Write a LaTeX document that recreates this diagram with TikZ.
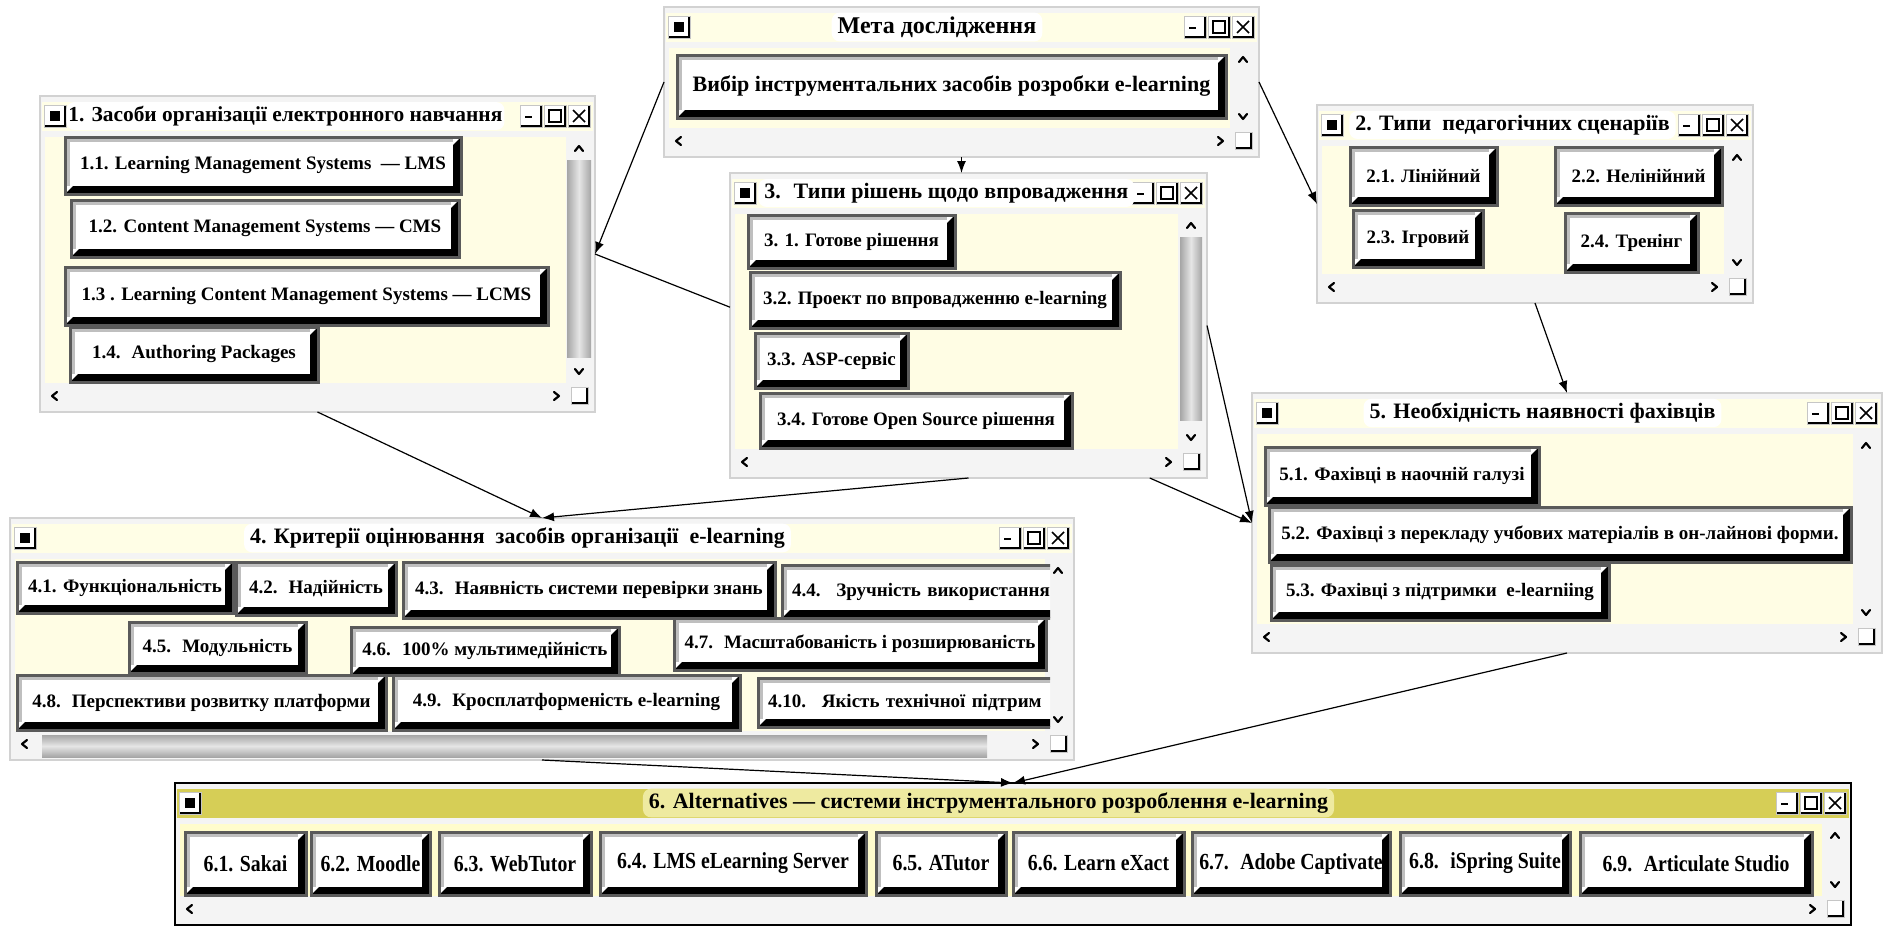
\documentclass[tikz,border=0pt]{standalone}
\usepackage{fontspec}
\setmainfont{Liberation Serif}
\newfontfamily\narrowserif{Liberation Serif}[FakeStretch=0.86]
\usetikzlibrary{positioning,arrows.meta,calc}

\definecolor{winbg}{RGB}{244,244,244}
\definecolor{paper}{RGB}{255,253,228}
\definecolor{barbg}{RGB}{255,254,230}
\definecolor{olivebar}{RGB}{214,206,86}
\definecolor{olivehalo}{RGB}{238,234,160}
\definecolor{paper6}{RGB}{255,252,205}
\definecolor{btnedge}{RGB}{90,90,90}

\tikzset{
  winframe/.style={draw=gray!35, line width=0.8pt, fill=winbg, inner sep=0pt, outer sep=0pt},
  winframe6/.style={draw=black, line width=1pt, fill=winbg, inner sep=0pt, outer sep=0pt},
  barfill/.style={fill=barbg},
  barfill6/.style={fill=olivebar},
  paperfill/.style={fill=paper},
  paperfill6/.style={fill=paper6},
  wintitle/.style={font=\bfseries\fontsize{11}{13}\selectfont, fill=white,
    rounded corners=4pt, inner xsep=3pt, inner ysep=2pt},
  btn/.style={draw=btnedge, line width=1.5pt, fill=white, inner sep=0pt, outer sep=0pt,
    font=\bfseries\fontsize{9.5}{11}\selectfont,
    path picture={
      \coordinate (bsw) at (path picture bounding box.south west);
      \coordinate (bne) at (path picture bounding box.north east);
      \coordinate (bse) at (bsw -| bne);
      \coordinate (bnw) at (bsw |- bne);
      \fill[black] (bsw) -- (bse) -- (bne) -- ([shift={(-4pt,-4pt)}]bne)
        -- ([shift={(-4pt,4pt)}]bse) -- ([shift={(4pt,4pt)}]bsw) -- cycle;
      \draw[gray!50, line width=1.5pt] ([shift={(1.5pt,4pt)}]bsw)
        -- ([shift={(1.5pt,-1.5pt)}]bnw) -- ([shift={(-4pt,-1.5pt)}]bne);
    }},
  iconbox/.style={fill=white, draw=gray!45, line width=0.5pt, minimum size=11pt,
    inner sep=0pt, outer sep=0pt,
    path picture={
      \draw[black, line width=2.4pt] (path picture bounding box.south west)
        -- (path picture bounding box.south east) -- (path picture bounding box.north east);
      \fill[black] ([shift={(-2.5pt,-2.5pt)}]path picture bounding box.center)
        rectangle ([shift={(2.3pt,2.3pt)}]path picture bounding box.center);
    }},
  ctlbox/.style={fill=white, draw=gray!45, line width=0.5pt, minimum size=11pt,
    inner sep=0pt, outer sep=0pt,
    path picture={
      \draw[black, line width=2.4pt] (path picture bounding box.south west)
        -- (path picture bounding box.south east) -- (path picture bounding box.north east);
    }},
  sizebox/.style={ctlbox, minimum size=8.5pt},
  chev/.style={line width=1.1pt, line cap=round, line join=round},
  chevup/.pic={\draw[chev] (-4,3) -- (0,-2) -- (4,3);},
  chevdown/.pic={\draw[chev] (-4,-3) -- (0,2) -- (4,-3);},
  chevleft/.pic={\draw[chev] (3,-4) -- (-2,0) -- (3,4);},
  chevright/.pic={\draw[chev] (-3,-4) -- (2,0) -- (-3,4);},
  conn/.style={-{Latex[length=6pt,width=4.5pt]}, line width=0.6pt},
  thumbv/.style={left color=gray!70, right color=gray!70, middle color=gray!20},
  thumbh/.style={top color=gray!70, bottom color=gray!70, middle color=gray!20},
  big/.style={font=\narrowserif\bfseries\fontsize{11.5}{13}\selectfont}
}

% window chrome: name, x1, y1, x2, y2, variant
\newcommand{\uiwin}[6]{%
  \node[winframe#6, anchor=north west, minimum width={(#4-#2)*0.5pt},
        minimum height={(#5-#3)*0.5pt}] (#1) at (#2,#3) {};
  \fill[barfill#6] ({#2+2},{#3+6}) rectangle ({#4-2},{#3+35});
  \fill[paperfill#6] ({#2+5},{#3+41}) rectangle ({#4-29},{#5-29});
  \node[iconbox] (#1-icon) at ({#2+15},{#3+20}) {};
  \node[ctlbox] (#1-min) at ({#4-64},{#3+20}) {};
  \node[ctlbox] (#1-max) at ({#4-40},{#3+20}) {};
  \node[ctlbox] (#1-cls) at ({#4-16},{#3+20}) {};
  \draw[line width=1.2pt] ([shift={(-3pt,-0.5pt)}]#1-min.center) -- ([shift={(0.5pt,-0.5pt)}]#1-min.center);
  \draw[line width=0.8pt] ([shift={(-3pt,-3pt)}]#1-max.center)
    rectangle ([shift={(3pt,3pt)}]#1-max.center);
  \draw[line width=0.8pt] ([shift={(-3pt,-3pt)}]#1-cls.center) -- ([shift={(3pt,3pt)}]#1-cls.center)
    ([shift={(-3pt,3pt)}]#1-cls.center) -- ([shift={(3pt,-3pt)}]#1-cls.center);
  \pic at ({#4-16},{#3+52}) {chevup};
  \pic at ({#4-16},{#5-40}) {chevdown};
  \pic at ({#2+14},{#5-16}) {chevleft};
  \pic at ({#4-38},{#5-16}) {chevright};
  \node[sizebox] (#1-grip) at ({#4-15},{#5-16}) {};
}

% button: [options] name, x1, y1, x2, y2, text
\newcommand{\uibtn}[7][]{%
  \node[btn, #1, minimum width={(#5-#3)*0.5pt}, minimum height={(#6-#4)*0.5pt}]
    (#2) at ({(#3+#5)/2},{(#4+#6)/2}) {#7};
}

\begin{document}
\begin{tikzpicture}[x=0.5pt, y=-0.5pt]
\useasboundingbox (0,0) rectangle (1887,926);
\fill[white] (0,0) rectangle (1887,926);

% windows
\uiwin{meta}{664}{7}{1259}{157}{}
\uiwin{w1}{40}{96}{595}{412}{}
\uiwin{w3}{730}{173}{1207}{478}{}
\uiwin{w2}{1317}{105}{1753}{303}{}
\uiwin{w5}{1252}{393}{1882}{653}{}
\uiwin{w4}{10}{518}{1074}{760}{}
\uiwin{w6}{175}{783}{1851}{925}{6}

% scroll thumbs
\shade[thumbv] (567,160) rectangle (591,357);
\shade[thumbv] (1180,237) rectangle (1202,420);
\shade[thumbh] (42,735) rectangle (987,757);

% titles
\node[wintitle, font=\bfseries\fontsize{12}{14}\selectfont] (tm)
  at ($(meta-icon.east)!0.5!(meta-min.west)$) {Мета дослідження};
\node[wintitle, right=0pt of w1-icon, inner xsep=1pt, font=\bfseries\fontsize{10.7}{13}\selectfont] (t1) {1. Засоби організації електронного навчання};
\node[wintitle, right=1pt of w3-icon] (t3) {3. \ Типи рішень щодо впровадження};
\node[wintitle, right=3pt of w2-icon] (t2) {2. Типи \ педагогічних сценаріїв};
\node[wintitle] (t5) at ($(w5-icon.east)!0.5!(w5-min.west)$) {5. Необхідність наявності фахівців};
\node[wintitle] (t4) at ($(w4-icon.east)!0.5!(w4-min.west)$) {4. Критерії оцінювання \ засобів організації \ e-learning};
\node[wintitle, fill=olivehalo] (t6) at ($(w6-icon.east)!0.5!(w6-min.west)$) {6. Alternatives — системи інструментального розроблення e-learning};

% goal
\uibtn[font=\bfseries\fontsize{11}{13}\selectfont]{bm}{677}{55}{1226}{118}{Вибір інструментальних засобів розробки e-learning}

% 1
\uibtn{b11}{65}{137}{461}{194}{1.1. Learning Management Systems \ — LMS}
\uibtn{b12}{71}{200}{459}{257}{1.2. Content Management Systems — CMS}
\uibtn{b13}{65}{267}{548}{325}{1.3 . Learning Content Management Systems — LCMS}
\uibtn{b14}{70}{327}{318}{382}{1.4. \ Authoring Packages}

% 3
\uibtn{b31}{748}{215}{955}{268}{3. 1. Готове рішення}
\uibtn{b32}{750}{272}{1120}{328}{3.2. Проект по впровадженню e-learning}
\uibtn{b33}{755}{333}{908}{388}{3.3. ASP-сервіс}
\uibtn{b34}{760}{393}{1072}{448}{3.4. Готове Open Source рішення}

% 2
\uibtn{b21}{1350}{147}{1497}{205}{2.1. Лінійний}
\uibtn{b22}{1555}{147}{1722}{205}{2.2. Нелінійний}
\uibtn{b23}{1353}{210}{1483}{267}{2.3. Ігровий}
\uibtn{b24}{1565}{213}{1698}{272}{2.4. Тренінг}

% 5
\uibtn{b51}{1265}{447}{1539}{505}{5.1. Фахівці в наочній галузі}
\uibtn{b52}{1269}{507}{1851}{562}{5.2. Фахівці з перекладу учбових матеріалів в он-лайнові форми.}
\uibtn{b53}{1271}{565}{1609}{620}{5.3. Фахівці з підтримки \ e-learniing}

% 4
\uibtn{b41}{17}{562}{233}{613}{4.1. Функціональність}
\uibtn{b42}{236}{562}{396}{615}{4.2. \ Надійність}
\uibtn{b43}{403}{562}{775}{618}{4.3. \ Наявність системи перевірки знань}
\uibtn{b45}{129}{622}{306}{673}{4.5. \ Модульність}
\uibtn{b46}{351}{627}{619}{675}{4.6. \ 100\% мультимедійність}
\uibtn{b47}{674}{618}{1046}{670}{4.7. \ Масштабованість і розширюваність}
\uibtn{b48}{17}{675}{386}{730}{4.8. \ Перспективи розвитку платформи}
\uibtn{b49}{393}{675}{740}{730}{4.9. \ Кросплатформеність e-learning}
\begin{scope}
  \clip (w4.north west) rectangle (1050,760);
  \node[btn, anchor=north west, minimum height=26.5pt, text width=155pt, align=left,
        inner xsep=5pt] (b44) at (782,565) {4.4. \ Зручність використання};
  \node[btn, anchor=north west, minimum height=24.5pt, text width=155pt, align=left,
        inner xsep=5pt] (b410) at (758,678) {4.10. \ Якість технічної підтрим};
\end{scope}

% 6
\uibtn[big]{b61}{185}{832}{306}{895}{6.1. Sakai}
\uibtn[big]{b62}{311}{832}{430}{895}{6.2. Moodle}
\uibtn[big]{b63}{439}{832}{591}{895}{6.3. WebTutor}
\uibtn[big]{b64}{600}{832}{866}{895}{6.4. LMS eLearning Server}
\uibtn[big]{b65}{876}{832}{1006}{895}{6.5. ATutor}
\uibtn[big]{b66}{1013}{832}{1184}{895}{6.6. Learn eXact}
\uibtn[big]{b67}{1192}{832}{1390}{895}{6.7. \ Adobe Captivate}
\uibtn[big]{b68}{1400}{832}{1570}{895}{6.8. \ iSpring Suite}
\uibtn[big]{b69}{1580}{832}{1812}{895}{6.9. \ Articulate Studio}

% connectors
\draw[conn] (meta.west) -- (w1.east);
\draw[line width=0.6pt] ($(w3.north west)!0.44!(w3.south west)$) -- (w1.east);
\draw[conn] (meta.south) -- (meta.south |- w3.north);
\draw[conn] (meta.east) -- (w2.west);
\draw[conn] (w2.south) -- (w5.north);
\draw[conn] (w3.east) -- (w5.west);
\draw[conn] ($(w3.south west)!0.88!(w3.south east)$) -- (w5.west);
\draw[conn] (w1.south) -- (w4.north);
\draw[conn] (w3.south) -- (w4.north);
\draw[conn] (w4.south) -- (w6.north);
\draw[conn] (w5.south) -- (w6.north);
\end{tikzpicture}
\end{document}
